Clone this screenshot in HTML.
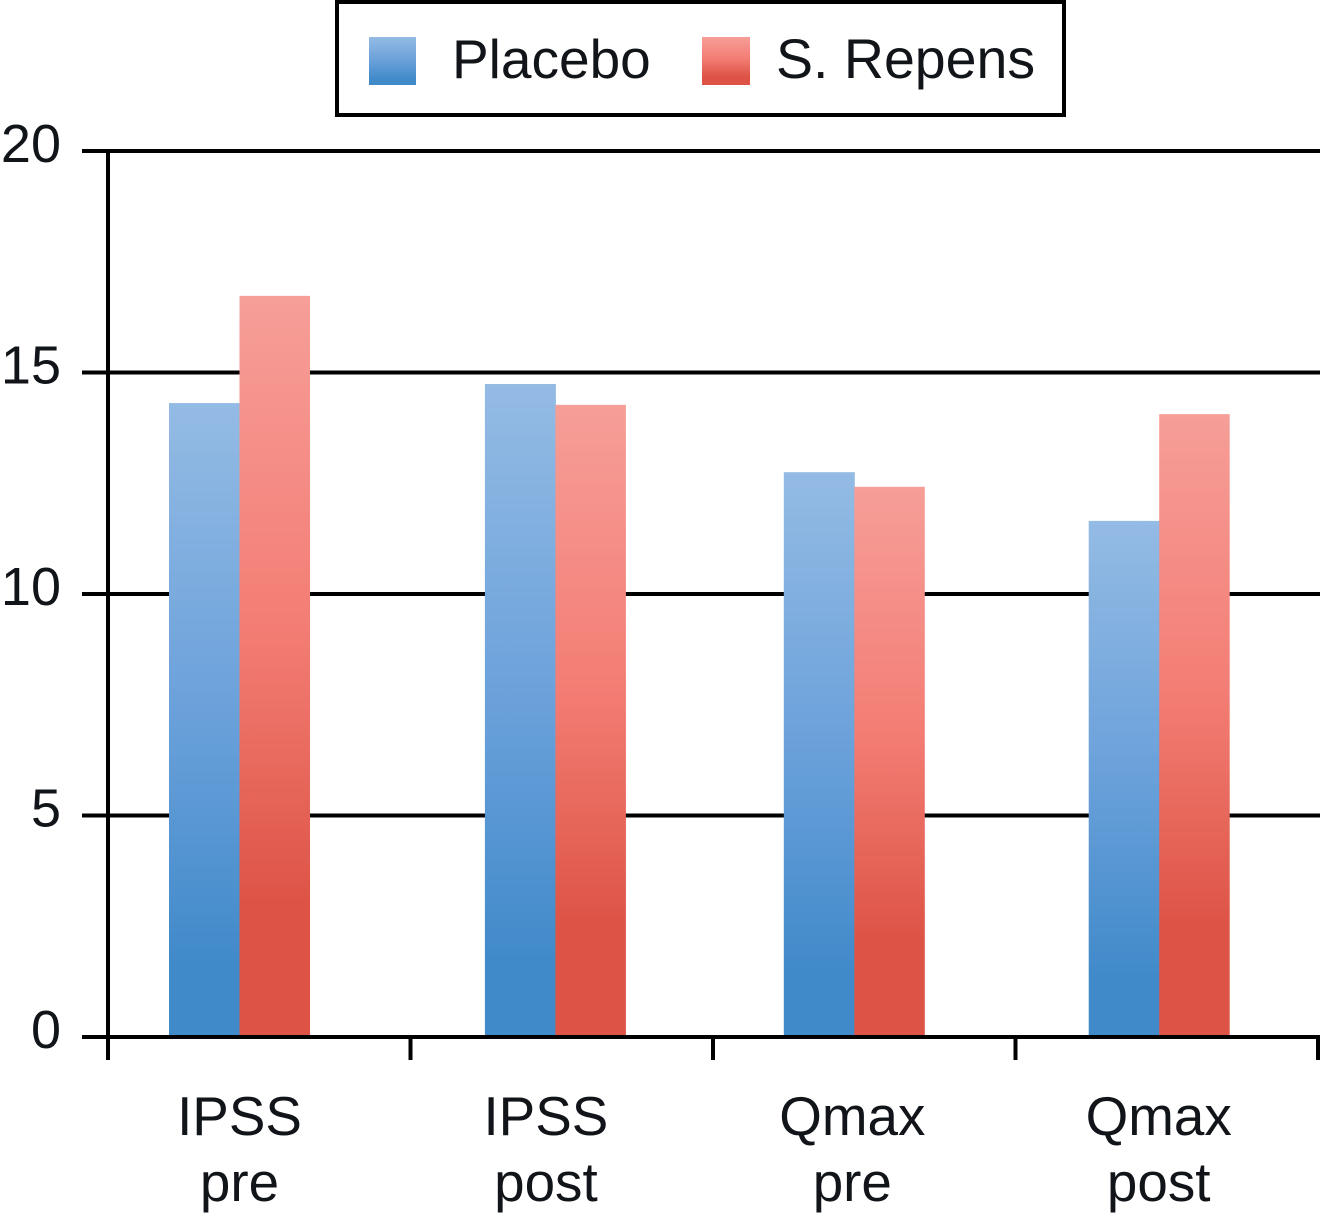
<!DOCTYPE html>
<html lang="en">
<head>
<meta charset="utf-8">
<title>Placebo vs S. Repens</title>
<style>
html,body{margin:0;padding:0;background:#fff;width:1320px;height:1228px;overflow:hidden}
svg{display:block}
text{font-family:"Liberation Sans",sans-serif;fill:#111418}
</style>
</head>
<body>
<svg id="chart" width="1320" height="1228" viewBox="0 0 1320 1228" xmlns="http://www.w3.org/2000/svg">
<defs>
<linearGradient id="blue-grad" x1="0" y1="0" x2="0" y2="1">
<stop offset="0" stop-color="#94bbe4"/><stop offset="0.5" stop-color="#69a0da"/><stop offset="0.88" stop-color="#418aca"/><stop offset="1" stop-color="#418aca"/>
</linearGradient>
<linearGradient id="red-grad" x1="0" y1="0" x2="0" y2="1">
<stop offset="0" stop-color="#f69e98"/><stop offset="0.45" stop-color="#f37d74"/><stop offset="0.82" stop-color="#dd5446"/><stop offset="1" stop-color="#dd5446"/>
</linearGradient>
</defs>
<g>
<rect x="337" y="2" width="727" height="113" fill="#fff" stroke="#000" stroke-width="4"/>
<rect x="369" y="37" width="47" height="48" fill="url(#blue-grad)"/>
<text x="452" y="78" font-size="55">Placebo</text>
<rect x="702" y="37" width="48" height="48" fill="url(#red-grad)"/>
<text x="776" y="78" font-size="55.5">S. Repens</text>
</g>
<g id="grid"></g>
<g id="bars"></g>
<g id="axes"></g>
<g id="labels"></g>
</svg>
<script>
const categories = [["IPSS","pre"],["IPSS","post"],["Qmax","pre"],["Qmax","post"]];
const placeboValues = [14.31,14.74,12.75,11.65];
const repensValues = [16.73,14.27,12.42,14.06];
const yTicks = [0,5,10,15,20];

const NS = "http://www.w3.org/2000/svg";
const y0 = 1037, yPerUnit = 44.3;
const plotLeft = 108, plotRight = 1318;
const labelFirst = 240, labelStep = 306.4;
const barWidth = 70.5;
const groupNudge = [-0.5,9,1.5,0];

function yScale(v){ return y0 - v * yPerUnit; }
function bandEdge(i){ return plotLeft + i * (plotRight - plotLeft) / categories.length; }
function labelX(i){ return labelFirst + i * labelStep; }
function groupX(i){ return labelX(i) + groupNudge[i]; }

function mk(parent, tag, attrs, text){
  const el = document.createElementNS(NS, tag);
  for (const k in attrs) el.setAttribute(k, attrs[k]);
  if (text !== undefined) el.textContent = text;
  parent.appendChild(el);
  return el;
}
const grid = document.getElementById("grid");
const bars = document.getElementById("bars");
const axes = document.getElementById("axes");
const labels = document.getElementById("labels");

yTicks.forEach(function(t){
  const line = mk(grid, "line", {x1:82, x2:1320, y1:yScale(t), y2:yScale(t), stroke:"#000", "stroke-width":4});
  
  
  const lab = mk(labels, "text", {x:61, y:yScale(t)+11, "font-size":54, "text-anchor":"end"}, String(t));
  
  
});

categories.forEach(function(c, i){
  const cx = groupX(i);
  const a = placeboValues[i], b = repensValues[i];
  const r1 = mk(bars, "rect", {x:cx-barWidth, y:yScale(a), width:barWidth+0.5, height:yScale(0)-yScale(a), fill:"url(#blue-grad)"});
  
  
  const r2 = mk(bars, "rect", {x:cx, y:yScale(b), width:barWidth, height:yScale(0)-yScale(b), fill:"url(#red-grad)"});
  
  
  const l1 = mk(labels, "text", {x:labelX(i)-0.5, y:1135, "font-size":54.8, "text-anchor":"middle"}, c[0]);
  
  
  const l2 = mk(labels, "text", {x:labelX(i)-0.5, y:1201, "font-size":54.8, "text-anchor":"middle"}, c[1]);
  
  
});

const baseline = mk(axes, "line", {x1:82, x2:1320, y1:y0, y2:y0, stroke:"#000", "stroke-width":4});


const yAxis = mk(axes, "line", {x1:plotLeft, x2:plotLeft, y1:yScale(20)-2, y2:1060, stroke:"#000", "stroke-width":4});


for (let i = 1; i <= categories.length; i++) {
  const tick = mk(axes, "line", {x1:bandEdge(i), x2:bandEdge(i), y1:y0, y2:1060, stroke:"#000", "stroke-width":4});
  
  
}
</script>
</body>
</html>
